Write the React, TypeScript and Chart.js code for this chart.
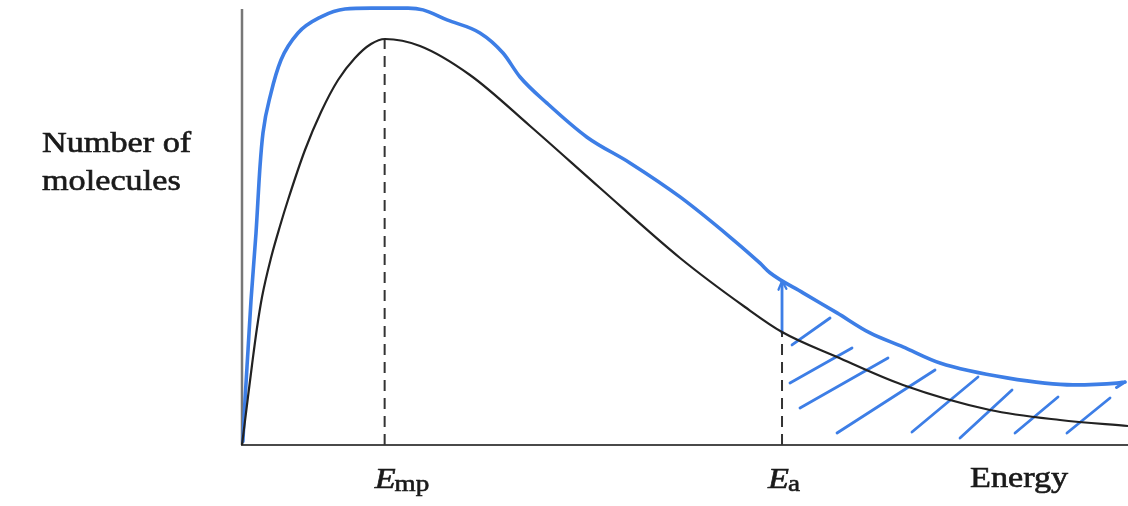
import React, { useEffect, useRef } from 'react';
import { Chart, registerables } from 'chart.js';

Chart.register(...registerables);

// ---- data (arbitrary energy / count units) ----
const ENERGY_BLACK = [0, 0.56, 1.13, 1.69, 2.26, 3.27, 4.29, 5.19, 7.11, 8.92, 10.84, 12.75, 14.56, 16.14, 20.09, 25.73, 32.51, 40.41, 49.44, 56.77, 60.95, 67.16, 74.6, 84.42, 92.33, 100];
const COUNT_BLACK = [0, 9.17, 18.35, 26.83, 33.94, 42.89, 50.23, 56.19, 67.66, 76.38, 83.72, 88.76, 91.97, 93.12, 91.51, 84.86, 73.17, 58.94, 42.89, 31.65, 25.92, 20.18, 13.76, 8.03, 5.73, 4.36];

const ENERGY_BLUE = [0.1, 0.34, 0.68, 1.02, 1.58, 2.03, 2.37, 3.27, 4.4, 6.32, 8.92, 11.63, 14.56, 18.74, 20.43, 23.14, 26.86, 29.46, 31.38, 34.42, 38.94, 43.79, 49.44, 55.08, 58.47, 59.59, 63.32, 67.16, 70.88, 74.6, 78.78, 86.34, 93.79, 98.76, 99.66];
const COUNT_BLUE = [0.8, 10.3, 21.8, 33.3, 48.6, 63.8, 71.6, 80.7, 88.3, 94.5, 98.2, 100.0, 100.2, 100.2, 99.8, 97.5, 94.5, 89.9, 84.4, 78.4, 70.6, 64.7, 56.9, 47.7, 41.7, 39.5, 34.9, 30.3, 25.7, 22.5, 18.8, 15.4, 13.8, 14.2, 14.45];

const HOOK_ENERGY = [99.66, 98.7];
const HOOK_COUNT = [14.45, 13.2];

const E_MP = 16.1;
const E_A = 60.95;
const PEAK_COUNT = 93.1;
const COUNT_AT_EA = 25.9;
const ARROW_ENERGY = [61.06, 60.95];
const ARROW_COUNT = [25.7, 37.6];
const ARROW_HEAD_ENERGY = [60.55, 60.95, 61.45];
const ARROW_HEAD_COUNT = [35.6, 37.6, 35.8];

const HATCH_X0 = [62.08, 61.85, 62.98, 67.16, 75.62, 81.04, 87.25, 93.11];
const HATCH_Y0 = [22.94, 14.22, 8.49, 2.75, 2.98, 1.61, 2.75, 2.75];
const HATCH_X1 = [66.37, 68.85, 72.91, 78.22, 83.07, 86.91, 92.1, 97.97];
const HATCH_Y1 = [29.13, 22.25, 19.95, 17.2, 15.6, 12.61, 11.01, 10.78];

const Y_TITLE = ['Number of', 'molecules'];
const X_TITLE = 'Energy';
const TICK_VALUES = [E_MP, E_A];
const TICK_MAIN = ['E', 'E'];
const TICK_SUB = ['mp', 'a'];

const BLUE = '#3d7ee6';
const SERIF = '"Liberation Serif", "Times New Roman", serif';
const SX = 1.18;

function drawStretched(ctx: CanvasRenderingContext2D, text: string, x: number, y: number, font: string) {
  ctx.save();
  ctx.translate(x, y);
  ctx.scale(SX, 1);
  ctx.font = font;
  ctx.fillText(text, 0, 0);
  ctx.lineWidth = 0.6;
  ctx.strokeText(text, 0, 0);
  const w = ctx.measureText(text).width * SX;
  ctx.restore();
  return w;
}

const decorPlugin = {
  id: 'decor',
  beforeDatasetsDraw(chart: any) {
    const { ctx, scales } = chart;
    const xs = scales.x;
    const ys = scales.y;
    const x0 = xs.getPixelForValue(0);
    const y0 = ys.getPixelForValue(0);
    ctx.save();
    ctx.lineCap = 'butt';
    ctx.strokeStyle = '#777';
    ctx.lineWidth = 2.5;
    ctx.beginPath();
    ctx.moveTo(x0, ys.getPixelForValue(100));
    ctx.lineTo(x0, y0);
    ctx.stroke();
    ctx.strokeStyle = '#4a4a4a';
    ctx.lineWidth = 2;
    ctx.beginPath();
    ctx.moveTo(x0 - 1, y0);
    ctx.lineTo(xs.getPixelForValue(100), y0);
    ctx.stroke();
    ctx.restore();
  },
  afterDraw(chart: any) {
    const { ctx, scales } = chart;
    const xs = scales.x;
    const ys = scales.y;
    const y0 = ys.getPixelForValue(0);
    ctx.save();
    ctx.fillStyle = '#1a1a1a';
    ctx.strokeStyle = '#1a1a1a';
    ctx.textBaseline = 'alphabetic';
    drawStretched(ctx, Y_TITLE[0], 42, 152, `29px ${SERIF}`);
    drawStretched(ctx, Y_TITLE[1], 42, 190, `29px ${SERIF}`);
    drawStretched(ctx, X_TITLE, 970, y0 + 42, `29px ${SERIF}`);
    const offsets = [-10, -14];
    TICK_VALUES.forEach((v, i) => {
      const px = xs.getPixelForValue(v) + offsets[i];
      const w = drawStretched(ctx, TICK_MAIN[i], px, y0 + 43, `italic 29px ${SERIF}`);
      drawStretched(ctx, TICK_SUB[i], px + w - 1, y0 + 46, `23px ${SERIF}`);
    });
    ctx.restore();
  },
};

function pts(xs: number[], ys: number[]) {
  return xs.map((x, i) => ({ x, y: ys[i] }));
}

export default function App() {
  const ref = useRef<HTMLCanvasElement | null>(null);
  useEffect(() => {
    if (!ref.current) return;
    const blueLine = (data: any[], width: number, order: number) => ({
      data,
      borderColor: BLUE,
      borderWidth: width,
      pointRadius: 0,
      clip: false as any,
      order,
      borderCapStyle: 'round' as const,
      borderJoinStyle: 'round' as const,
    });
    const hatchSets = HATCH_X0.map((_, i) =>
      blueLine([{ x: HATCH_X0[i], y: HATCH_Y0[i] }, { x: HATCH_X1[i], y: HATCH_Y1[i] }], 2.8, 3)
    );
    const chart = new Chart(ref.current, {
      type: 'line',
      data: {
        datasets: [
          {
            data: pts(ENERGY_BLACK, COUNT_BLACK),
            borderColor: '#222',
            borderWidth: 2.2,
            pointRadius: 0,
            cubicInterpolationMode: 'monotone',
            clip: false as any,
            order: 0,
          },
          { ...blueLine(pts(ENERGY_BLUE, COUNT_BLUE), 3.6, 2), cubicInterpolationMode: 'monotone' },
          blueLine(pts(HOOK_ENERGY, HOOK_COUNT), 3, 2),
          blueLine(pts(ARROW_ENERGY, ARROW_COUNT), 2.8, 2),
          blueLine(pts(ARROW_HEAD_ENERGY, ARROW_HEAD_COUNT), 2.2, 2),
          {
            data: [{ x: E_MP, y: 0 }, { x: E_MP, y: PEAK_COUNT }],
            borderColor: '#333',
            borderWidth: 2,
            borderDash: [11, 7],
            pointRadius: 0,
            order: 1,
          },
          {
            data: [{ x: E_A, y: 0 }, { x: E_A, y: COUNT_AT_EA }],
            borderColor: '#333',
            borderWidth: 2,
            borderDash: [11, 7],
            pointRadius: 0,
            order: 1,
          },
          ...hatchSets,
        ] as any,
      },
      options: {
        responsive: false,
        animation: false,
        devicePixelRatio: 1,
        layout: { padding: { left: 242, right: 0, top: 9, bottom: 61 } },
        scales: {
          x: { type: 'linear', min: 0, max: 100, display: false },
          y: { type: 'linear', min: 0, max: 100, display: false },
        },
        plugins: {
          legend: { display: false },
          tooltip: { enabled: false },
        },
        events: [],
      },
      plugins: [decorPlugin],
    });
    return () => chart.destroy();
  }, []);
  return (
    <div style={{ position: 'fixed', left: 0, top: 0, width: 1128, height: 506, background: '#fff' }}>
      <canvas ref={ref} width={1128} height={506} style={{ display: 'block' }} />
    </div>
  );
}
